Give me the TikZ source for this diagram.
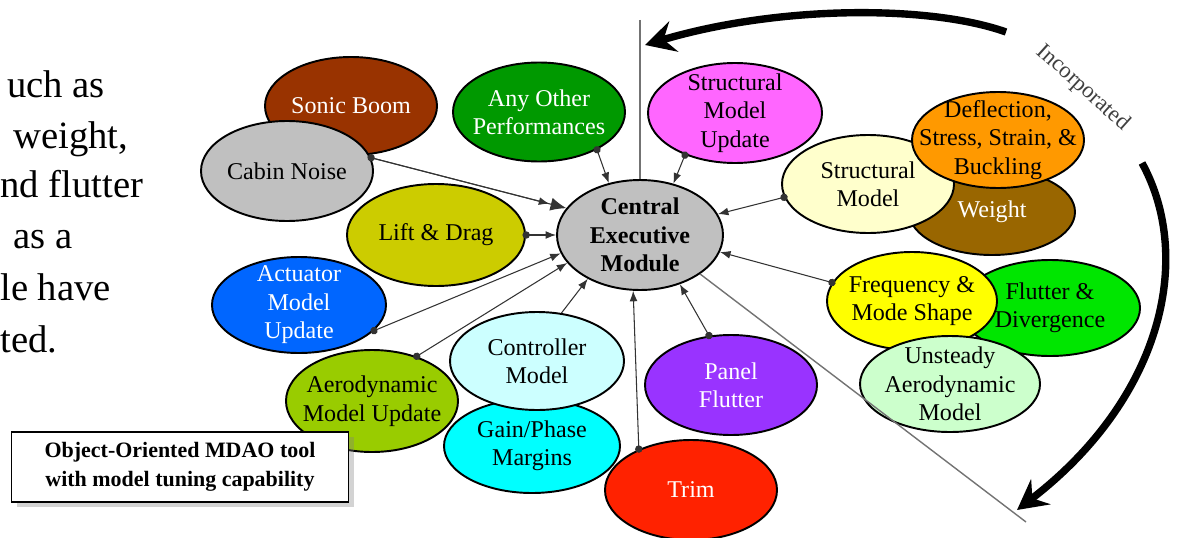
\documentclass[tikz,border=0pt]{standalone}
\usepackage{fontspec}
\setmainfont{Liberation Serif}
\usetikzlibrary{shapes,arrows.meta,shadows}
\definecolor{boom}{RGB}{153,51,0}
\definecolor{noise}{RGB}{192,192,192}
\definecolor{perf}{RGB}{0,153,0}
\definecolor{smupd}{RGB}{255,102,255}
\definecolor{smod}{RGB}{255,255,204}
\definecolor{wgt}{RGB}{153,102,0}
\definecolor{defl}{RGB}{255,153,0}
\definecolor{lift}{RGB}{204,204,0}
\definecolor{act}{RGB}{0,102,255}
\definecolor{aero}{RGB}{153,204,0}
\definecolor{ctrl}{RGB}{204,255,255}
\definecolor{gain}{RGB}{0,255,255}
\definecolor{trim}{RGB}{255,34,0}
\definecolor{panel}{RGB}{153,51,255}
\definecolor{freq}{RGB}{255,255,0}
\definecolor{flut}{RGB}{0,230,0}
\definecolor{unst}{RGB}{204,255,204}
\newcommand{\bubfont}{\fontsize{13.7}{16.2}\selectfont}
\begin{document}
\begin{tikzpicture}[x=0.02cm, y=-0.02cm,
	bub/.style n args={3}{
		ellipse,
		draw=black,
		line width=1.1pt,
		fill=#1,
		inner sep=0pt,
		label={[#2]center:#3}},
	every label/.style={align=center, font=\bubfont},
	link/.style={draw=black!80, line width=0.6pt, shorten <=-2pt,
		{Circle[length=4.2pt]}-{Latex[length=6pt,width=4.5pt]}},
	sep/.style={draw=black!55, line width=0.8pt},
	bigarrow/.style={line width=4.2pt, -{Stealth[length=17pt,width=18pt,inset=6pt]}}]
	\useasboundingbox (0,0) rectangle (1182,537);
	% draw slide text cut at the left edge
	\foreach \t/\x/\y [count=\i from 1] in {{uch as}/7/97, {weight,}/13/148, {nd flutter}/0/197, {as a}/13/248, {le have}/0/300, {ted.}/0/352}
	\node[anchor=base west, inner sep=0pt, font=\fontsize{22}{26}\selectfont] (txt\i) at (\x,\y) {\t};
	% draw separator lines
	\coordinate (vtop) at (640,20);
	\coordinate (dend) at (1026,522);
	% draw performance and model ellipses
	\foreach \n/\x/\y/\w/\h/\c/\tc/\t in {
		sonic/351/106/172/98/boom/white/{Sonic Boom},
		cabin/287/171/172/100/noise/black/{Cabin Noise},
		perf/539/112/172/99/perf/white/{Any Other\\Performances},
		smupd/735/113/174/100/smupd/black/{Structural\\Model\\Update},
		weight/992/212/166/86/wgt/white/{Weight},
		smod/868/184/172/98/smod/black/{Structural\\Model},
		defl/998/140/172/96/defl/black/{Deflection,\\Stress, Strain, \&\\Buckling},
		lift/436/235/178/102/lift/black/{Lift \& Drag},
		act/299/305/174/96/act/white/{Actuator\\Model\\Update},
		aero/372/401/172/102/aero/black/{Aerodynamic\\Model Update},
		gain/532/446/176/94/gain/black/{Gain/Phase\\Margins},
		ctrl/537/361/174/98/ctrl/black/{Controller\\Model},
		trim/691/490/172/100/trim/white/{Trim},
		panel/731/385/172/100/panel/white/{Panel\\Flutter},
		flut/1050/308/180/96/flut/black/{Flutter \&\\Divergence},
		freq/912/301/170/98/freq/black/{Frequency \&\\Mode Shape},
		unst/950/384/180/96/unst/black/{Unsteady\\Aerodynamic\\Model}} {
		\node[bub={\c}{\tc}{\t}, minimum width=0.02cm*\w, minimum height=0.02cm*\h] (\n) at (\x,\y) {};
	}
	% draw central module
	\node[bub={noise}{font=\bubfont\bfseries}{Central\\Executive\\Module}, minimum width=3.32cm, minimum height=2.2cm] (central) at (640,235) {};
	\draw[sep] (vtop) -- (central.north);
	\draw[sep] (central.-33) -- (dend);
	% draw links into central module
	\coordinate (noisedot) at (cabin.9);
	\draw[link, -{Latex[length=9pt,width=7.5pt]}] (noisedot) -- (central.160);
	\draw[link, shorten >=10pt] (noisedot) -- (central.160);
	\draw[link] (lift.0) -- (central.180);
	\draw[link] (act.-19) -- (central.193);
	\draw[link] (aero.45) -- (central.201);
	\draw[draw=black!80, line width=0.6pt, -{Latex[length=6pt,width=4.5pt]}] (ctrl.63) -- (central.220);
	\draw[link] (trim.142) -- (central.263);
	\draw[link] (panel.114) -- (central.309);
	\draw[link] (freq.167) -- (central.348);
	\draw[link] (smod.189) -- (central.15);
	\draw[link] (smupd.220) -- (central.57);
	\draw[link] (perf.-33) -- (central.121);
	% draw incorporated arrows
	\coordinate (topA) at (1006,32);
	\coordinate (topB) at (645,45);
	\coordinate (rgtA) at (1142,163);
	\coordinate (rgtB) at (1017,510);
	\draw[bigarrow] (topA) .. controls (930,5) and (780,5) .. (topB);
	\draw[bigarrow] (rgtA) .. controls (1195,260) and (1160,400) .. (rgtB);
	\node[rotate=-42, text=black!75, font=\fontsize{13}{15}\selectfont] (inc) at (1083,88) {Incorporated};
	% draw tool caption box
	\node[draw, line width=0.9pt, fill=white, drop shadow={shadow xshift=3pt, shadow yshift=-3pt, opacity=.35},
		minimum width=6.74cm, minimum height=1.4cm, align=center,
		font=\fontsize{12.5}{16.4}\selectfont\bfseries] (tool) at (180,467) {Object-Oriented MDAO tool\\with model tuning capability};
\end{tikzpicture}
\end{document}
